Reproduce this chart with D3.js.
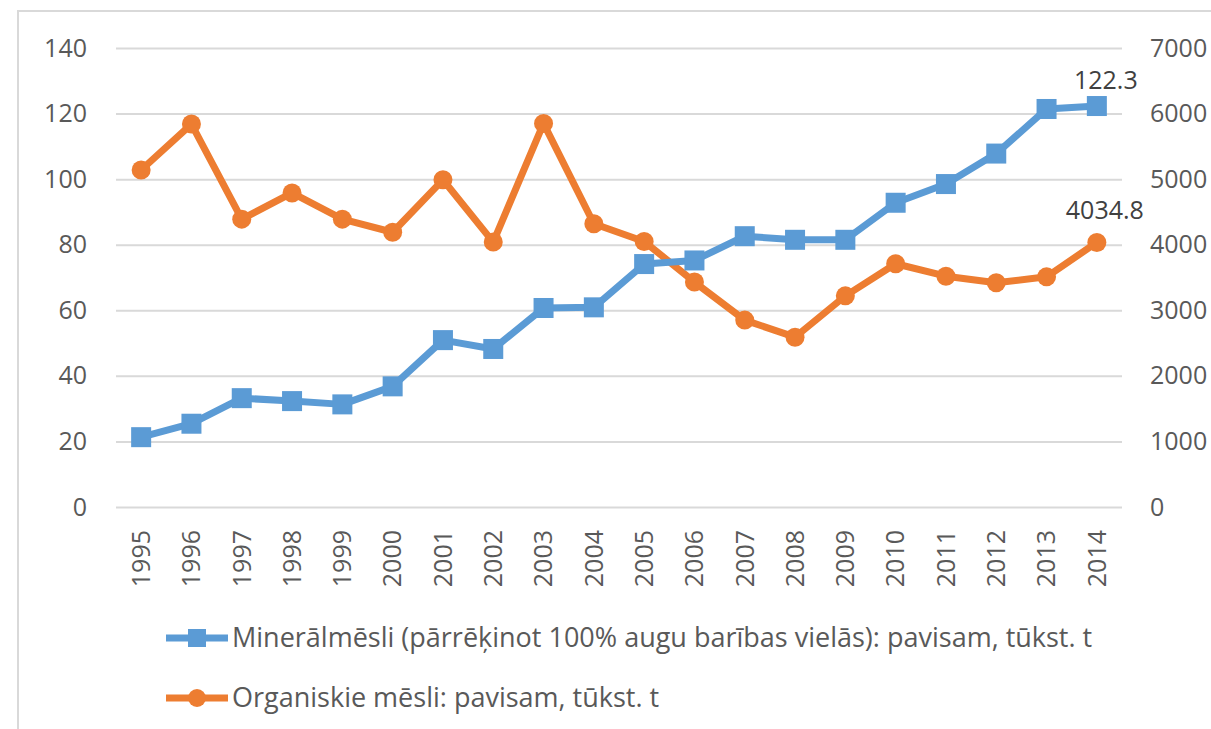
<!DOCTYPE html>
<html>
<head>
<meta charset="utf-8">
<script src="https://cdn.jsdelivr.net/npm/d3@7"></script>
<style>
  body { margin: 0; background: #fff; }
  text { font-family: "Open Sans", "Noto Sans", sans-serif; fill: #595959; }
</style>
</head>
<body>
<svg class="chart"></svg>
<script>
// years on the x axis, two series on two y axes
var years = ["1995","1996","1997","1998","1999","2000","2001","2002","2003","2004",
             "2005","2006","2007","2008","2009","2010","2011","2012","2013","2014"];
var mineral = [21.3, 25.4, 33.2, 32.3, 31.3, 36.8, 50.9, 48.2, 60.7, 60.9,
               74.1, 75.2, 82.6, 81.5, 81.5, 92.8, 98.5, 107.8, 121.4, 122.3];
var organic = [5140, 5840, 4390, 4790, 4390, 4190, 4990, 4040, 5850, 4320,
               4050, 3430, 2850, 2590, 3220, 3710, 3520, 3420, 3510, 4034.8];
var leftTicks = [0, 20, 40, 60, 80, 100, 120, 140];
var rightTicks = [0, 1000, 2000, 3000, 4000, 5000, 6000, 7000];
var seriesNames = ["Minerālmēsli (pārrēķinot 100% augu barības vielās): pavisam, tūkst. t",
                   "Organiskie mēsli: pavisam, tūkst. t"];

var ui = {
  width: 1211,
  height: 729,
  left: 116,
  right: 1122,
  top: 48,
  bottom: 507,
  blue: "#5B9BD5",
  orange: "#ED7D31",
  grid: "#D9D9D9",
  font: 25
};

var chart = d3.select(".chart")
  .attr("width", ui.width)
  .attr("height", ui.height);

// outer frame (runs off the right / bottom edge like the original)
chart.append("rect")
  .attr("x", 18).attr("y", 11)
  .attr("width", 1240).attr("height", 740)
  .style("fill", "none")
  .style("stroke", ui.grid)
  .style("stroke-width", 2);

var x = d3.scaleBand().domain(years).range([ui.left, ui.right]).padding(0);
var yL = d3.scaleLinear().domain([0, 140]).range([ui.bottom, ui.top]);
var yR = d3.scaleLinear().domain([0, 7000]).range([ui.bottom, ui.top]);
function cx(d) { return x(d) + x.bandwidth() / 2; }

// gridlines
chart.append("g")
  .attr("transform", "translate(" + ui.left + ",0)")
  .call(d3.axisLeft(yL).tickValues(leftTicks).tickSize(-(ui.right - ui.left)).tickFormat(""))
  .call(function(g) {
    g.select(".domain").remove();
    g.selectAll("line").style("stroke", ui.grid).style("stroke-width", 2);
  });

// left labels
chart.append("g")
  .attr("transform", "translate(" + ui.left + ",0)")
  .call(d3.axisLeft(yL).tickValues(leftTicks).tickSize(0).tickPadding(29))
  .call(function(g) {
    g.select(".domain").remove();
    g.selectAll("text").style("font-size", ui.font + "px").style("font-family", null);
  });

// right labels (cut by the page edge, as in the source image)
chart.append("g")
  .attr("transform", "translate(" + ui.right + ",0)")
  .call(d3.axisRight(yR).tickValues(rightTicks).tickSize(0).tickPadding(28).tickFormat(d3.format("d")))
  .call(function(g) {
    g.select(".domain").remove();
    g.selectAll("text").style("font-size", ui.font + "px").style("font-family", null);
  });

// bottom labels, rotated
chart.append("g")
  .attr("transform", "translate(0," + ui.bottom + ")")
  .call(d3.axisBottom(x).tickSize(0))
  .call(function(g) {
    g.select(".domain").remove();
    g.selectAll("text")
      .style("font-size", ui.font + "px").style("font-family", null)
      .attr("transform", "rotate(-90)")
      .attr("x", -23).attr("y", 0).attr("dy", "0.35em")
      .style("text-anchor", "end");
  });

var lineL = d3.line().x(function(d, i) { return cx(years[i]); }).y(function(d) { return yL(d); });
var lineR = d3.line().x(function(d, i) { return cx(years[i]); }).y(function(d) { return yR(d); });

chart.append("path").datum(organic)
  .attr("d", lineR)
  .style("fill", "none").style("stroke", ui.orange).style("stroke-width", 7)
  .style("stroke-linejoin", "round");
chart.selectAll(".dot").data(organic).enter().append("circle")
  .attr("class", "dot")
  .attr("cx", function(d, i) { return cx(years[i]); })
  .attr("cy", function(d) { return yR(d); })
  .attr("r", 9.5)
  .style("fill", ui.orange);

chart.append("path").datum(mineral)
  .attr("d", lineL)
  .style("fill", "none").style("stroke", ui.blue).style("stroke-width", 7)
  .style("stroke-linejoin", "round");
chart.selectAll(".sq").data(mineral).enter().append("rect")
  .attr("class", "sq")
  .attr("x", function(d, i) { return cx(years[i]) - 10; })
  .attr("y", function(d) { return yL(d) - 10; })
  .attr("width", 20).attr("height", 20)
  .style("fill", ui.blue);

// data labels on the last point
var last = years.length - 1;
chart.append("text")
  .attr("x", cx(years[last]) + 9).attr("y", yL(mineral[last]) - 17)
  .style("text-anchor", "middle").style("font-size", ui.font + "px").style("fill", "#404040")
  .text(mineral[last]);
chart.append("text")
  .attr("x", cx(years[last]) + 8).attr("y", yR(organic[last]) - 23)
  .style("text-anchor", "middle").style("font-size", ui.font + "px").style("fill", "#404040")
  .text(organic[last]);

// legend
var legend = chart.selectAll(".legend").data(seriesNames).enter().append("g")
  .attr("class", "legend")
  .attr("transform", function(d, i) { return "translate(166," + (638 + i * 60) + ")"; });
legend.append("line")
  .attr("x1", 0).attr("x2", 62).attr("y1", 0).attr("y2", 0)
  .style("stroke", function(d, i) { return i ? ui.orange : ui.blue; })
  .style("stroke-width", 7);
legend.filter(function(d, i) { return i === 0; }).append("rect")
  .attr("x", 22).attr("y", -9).attr("width", 18).attr("height", 18)
  .style("fill", ui.blue);
legend.filter(function(d, i) { return i === 1; }).append("circle")
  .attr("cx", 31).attr("cy", 0).attr("r", 9)
  .style("fill", ui.orange);
legend.append("text")
  .attr("x", 66).attr("y", 0).attr("dy", "0.35em")
  .style("font-size", "27px")
  .text(function(d) { return d; });
</script>
</body>
</html>
